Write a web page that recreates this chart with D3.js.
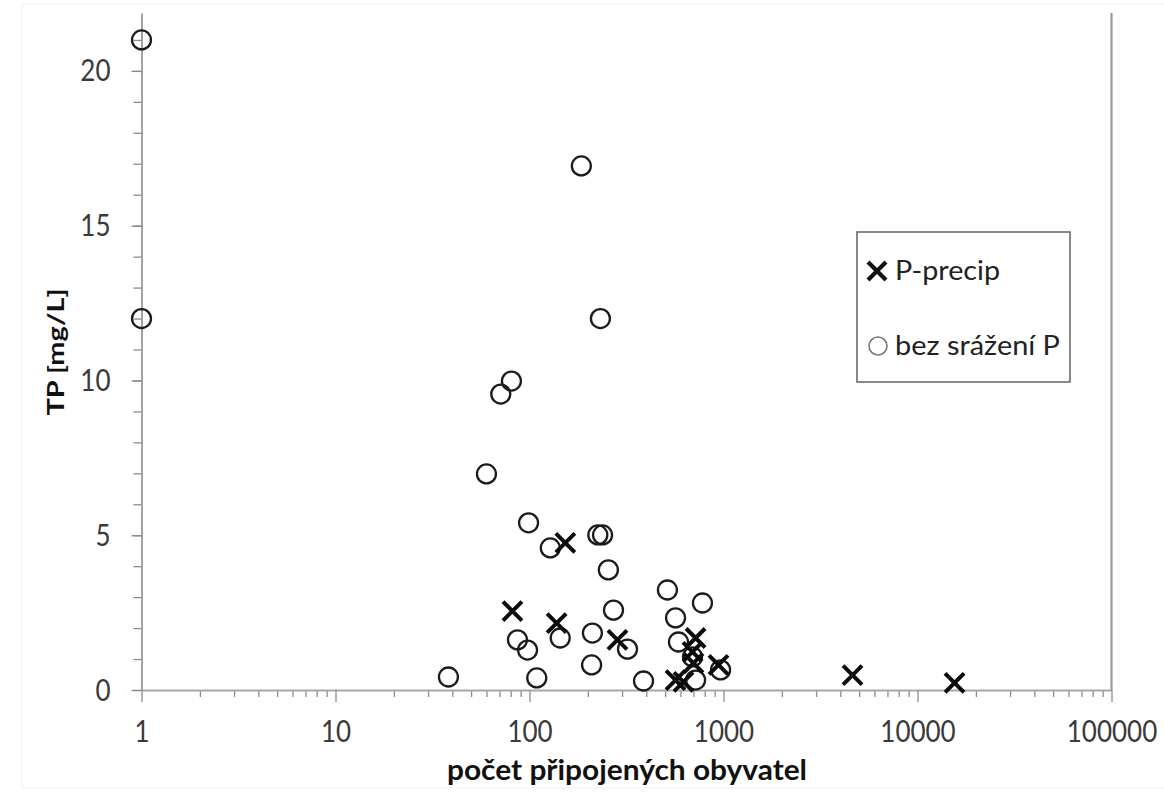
<!DOCTYPE html>
<html>
<head>
<meta charset="utf-8">
<script src="https://cdn.jsdelivr.net/npm/d3@7"></script>
<style>
  html, body { margin: 0; padding: 0; background: #fff; }
  svg { display: block; font-family: Lato, "Open Sans", sans-serif; }
</style>
</head>
<body>
<svg id="chart" width="1164" height="792"></svg>
<script>
// ---- data ----
const precipX = [153, 81.7, 138, 284, 718, 692, 700, 942, 566, 622, 4624, 15520];
const precipY = [4.75, 2.55, 2.16, 1.62, 1.68, 1.23, 0.87, 0.81, 0.32, 0.26, 0.48, 0.23];

const bezX = [1, 1, 185, 232, 80.7, 71.1, 60.0, 98.9, 128, 225, 238, 255, 514, 779, 271, 566,
              211, 144, 86.7, 97.7, 320, 586, 209, 38.2, 109, 387, 966, 718, 692];
const bezY = [21, 12, 16.93, 12, 9.98, 9.56, 6.98, 5.40, 4.59, 5.01, 5.01, 3.88, 3.23, 2.81, 2.58, 2.33,
              1.84, 1.68, 1.62, 1.29, 1.32, 1.55, 0.81, 0.42, 0.39, 0.29, 0.65, 0.32, 1.07];

const xTickValues = [1, 10, 100, 1000, 10000, 100000];
const yTickValues = [0, 5, 10, 15, 20];
const yMinorStep = 1;
const yMax = 21.87;

const legendLabels = ["P-precip", "bez srážení P"];
const xTitle = "počet připojených obyvatel";
const yTitle = "TP [mg/L]";

// ---- layout ----
const svg = d3.select("#chart");
const SY = 1.16; // vertical stretch of the reference's text

const x = d3.scaleLog().domain([1, 100000]).range([141.5, 1111.5]);
const y = d3.scaleLinear().domain([0, yMax]).range([690, 13]);

const axisColor = "#8c8c8c";
const textColor = "#3a3a3a";

// faint outer chart-area frame
svg.append("rect").attr("x", 22).attr("y", 4).attr("width", 1160).attr("height", 784)
  .attr("fill", "none").attr("stroke", "#f1f1f1").attr("stroke-width", 1);

// minor x ticks (2..9 within each decade)
const xMinor = [];
xTickValues.slice(0, -1).forEach(d => { for (let k = 2; k <= 9; k++) xMinor.push(k * d); });

const gxMinor = svg.append("g").attr("transform", `translate(0,${y(0)})`)
  .call(d3.axisBottom(x).tickValues(xMinor).tickSize(7).tickSizeOuter(0).tickFormat(""));
const gx = svg.append("g").attr("transform", `translate(0,${y(0)})`)
  .call(d3.axisBottom(x).tickValues(xTickValues).tickSize(12).tickSizeOuter(0).tickFormat(d3.format("d")));

// y axis
const yMinor = d3.range(0, Math.floor(yMax) + 1, yMinorStep);
const gyMinor = svg.append("g").attr("transform", `translate(${x(1)},0)`)
  .call(d3.axisLeft(y).tickValues(yMinor).tickSize(8).tickSizeOuter(0).tickFormat(""));
const gy = svg.append("g").attr("transform", `translate(${x(1)},0)`)
  .call(d3.axisLeft(y).tickValues(yTickValues).tickSize(10).tickSizeOuter(0));

[gxMinor, gx, gyMinor, gy].forEach(g => {
  g.selectAll("path.domain").attr("stroke", axisColor).attr("stroke-width", 1.6);
  g.selectAll(".tick line").attr("stroke", axisColor).attr("stroke-width", 1.3);
});
gyMinor.select("path.domain").remove();
gxMinor.select("path.domain").remove();
gx.select("path.domain").attr("stroke", "#a8a8a8").attr("stroke-width", 2);

gx.selectAll(".tick text")
  .attr("y", 0).attr("dy", null)
  .attr("transform", `translate(0,52) scale(1,${SY})`)
  .attr("font-family", "Lato, 'Open Sans', sans-serif")
  .attr("font-size", 26).attr("fill", textColor).attr("text-anchor", "middle");

gy.selectAll(".tick text")
  .attr("x", 0).attr("dy", null)
  .attr("transform", `translate(-31,10) scale(1,${SY})`)
  .attr("font-family", "Lato, 'Open Sans', sans-serif")
  .attr("font-size", 26).attr("fill", textColor).attr("text-anchor", "end");

// right border line
svg.append("line")
  .attr("x1", x(100000)).attr("x2", x(100000))
  .attr("y1", y(yMax)).attr("y2", y(0))
  .attr("stroke", "#9a9a9a").attr("stroke-width", 2.2);

// axis titles
svg.append("g").attr("transform", `translate(627,780) scale(1,${SY})`)
  .append("text").text(xTitle)
  .attr("text-anchor", "middle").attr("font-weight", "bold")
  .attr("font-size", 24).attr("fill", "#111")
  .attr("textLength", 360).attr("lengthAdjust", "spacingAndGlyphs")
  .attr("x", 0).attr("y", 0);

svg.append("g").attr("transform", `translate(64,352) rotate(-90) scale(${SY},1)`)
  .append("text").text(yTitle)
  .attr("text-anchor", "middle").attr("font-weight", "bold")
  .attr("font-size", 23).attr("fill", "#111")
  .attr("textLength", 127 / SY).attr("lengthAdjust", "spacingAndGlyphs")
  .attr("x", 0).attr("y", 0);

// ---- markers ----
const bez = bezX.map((v, i) => ({ x: v, y: bezY[i] }));
const precip = precipX.map((v, i) => ({ x: v, y: precipY[i] }));

svg.append("g").selectAll("circle").data(bez).join("circle")
  .attr("cx", d => x(d.x)).attr("cy", d => y(d.y)).attr("r", 9.5)
  .attr("fill", "none").attr("stroke", "#1c1c1c").attr("stroke-width", 2.3);

const hs = 9.5;
const crossPath = `M${-hs},${-hs}L${hs},${hs}M${-hs},${hs}L${hs},${-hs}`;
svg.append("g").selectAll("path").data(precip).join("path")
  .attr("transform", d => `translate(${x(d.x)},${y(d.y)})`)
  .attr("d", crossPath)
  .attr("fill", "none").attr("stroke", "#0a0a0a").attr("stroke-width", 4);

// ---- legend ----
const lg = svg.append("g");
lg.append("rect").attr("x", 857).attr("y", 232).attr("width", 213).attr("height", 150)
  .attr("fill", "#fff").attr("stroke", "#6b6b6b").attr("stroke-width", 1.6);

const lhs = 9;
lg.append("path")
  .attr("transform", "translate(877,271)")
  .attr("d", `M${-lhs},${-lhs}L${lhs},${lhs}M${-lhs},${lhs}L${lhs},${-lhs}`)
  .attr("fill", "none").attr("stroke", "#111").attr("stroke-width", 4.2);
lg.append("circle").attr("cx", 878).attr("cy", 346).attr("r", 9)
  .attr("fill", "none").attr("stroke", "#777").attr("stroke-width", 1.6);

const legendText = [
  { t: legendLabels[0], y: 280, len: 105 },
  { t: legendLabels[1], y: 355, len: 165 }
];
legendText.forEach(d => {
  lg.append("g").attr("transform", `translate(895,${d.y}) scale(1,${SY})`)
    .append("text").text(d.t)
    .attr("font-size", 23).attr("fill", "#222")
    .attr("textLength", d.len).attr("lengthAdjust", "spacingAndGlyphs");
});
</script>
</body>
</html>
